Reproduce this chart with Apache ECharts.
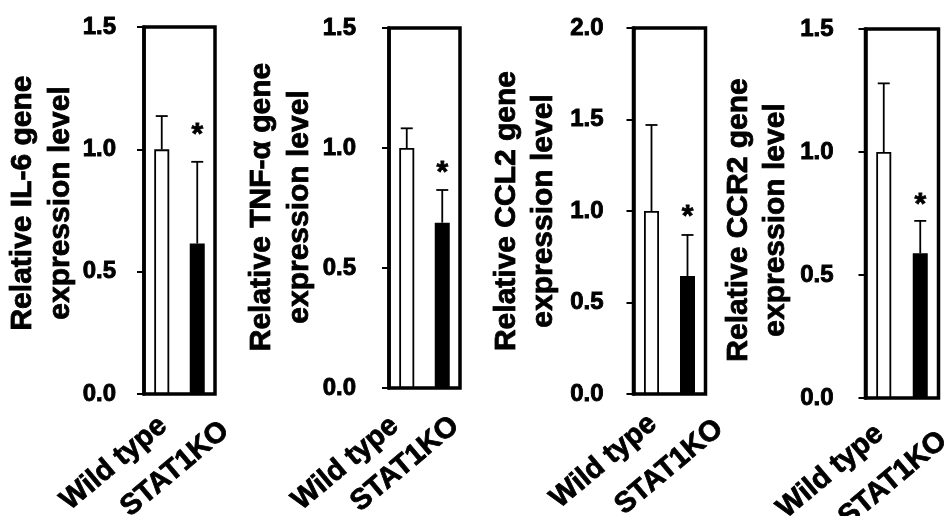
<!DOCTYPE html>
<html><head><meta charset="utf-8">
<script src="https://cdn.jsdelivr.net/npm/echarts@6/dist/echarts.min.js"></script>
<style>html,body{margin:0;padding:0;background:#fff}#c{width:947px;height:516px}</style>
</head><body><div id="c"></div>
<script>
// ---- data ----
const categories = ['Wild type', 'STAT1KO'];
const yTitles = [
  'Relative IL-6 gene\nexpression level',
  'Relative TNF-α gene\nexpression level',
  'Relative CCL2 gene\nexpression level',
  'Relative CCR2 gene\nexpression level'
];
const il6Mean = [1.0, 0.615];
const il6Err = [0.136, 0.334];
const tnfMean = [1.0, 0.689];
const tnfErr = [0.082, 0.136];
const ccl2Mean = [1.0, 0.645];
const ccl2Err = [0.47, 0.224];
const ccr2Mean = [1.0, 0.588];
const ccr2Err = [0.279, 0.132];
const significance = ['', '*'];
const yMax = [1.5, 1.5, 2.0, 1.5];
const yInterval = 0.5;

// ---- layout / style ----
const FONT = '"Liberation Sans", Arial, Helvetica, sans-serif';
const barColors = ['#ffffff', '#000000'];
const grids = [
  {left: 144, top: 27, width: 71, height: 367},
  {left: 389, top: 28, width: 71, height: 360},
  {left: 633.5, top: 28, width: 72, height: 366},
  {left: 865.5, top: 29, width: 73, height: 369}
];
const tickLabelMargin = [28, 33, 30, 32];
const nameGaps = [65, 71, 71, 71];
const nameShift = [7.5, 1, 0, -6.5];
const starGap = [32.5, 22.5, 24, 22];
// desired offset of label end (right-middle) from (category centre, axis bottom)
const xLabelTargets = [
  [[1.5, 28], [28, 33]],
  [[-12, 34], [13, 34]],
  [[1.5, 26], [32, 31]],
  [[-4, 32], [23, 39]]
];
const ROT = 40;
const XFS = 29;

function xLabelLayout(p) {
  const th = ROT * Math.PI / 180, c = Math.cos(th), s = Math.sin(th);
  const t = xLabelTargets[p];
  const m = Math.min.apply(null, t.map(d => d[1] - d[0] * c / s));
  const rich = {};
  t.forEach((d, i) => {
    const g = s * d[0] + c * (d[1] - m);
    const b = -c * d[0] + s * (d[1] - m);
    rich['c' + i] = {
      fontSize: XFS, fontWeight: 'bold', fontFamily: FONT, color: '#000',
      textBorderColor: '#000', textBorderWidth: 0.8,
      padding: [Math.max(0, 2 * g), Math.max(0, b), Math.max(0, -2 * g), 0]
    };
  });
  return {m, rich};
}

const means = [il6Mean, tnfMean, ccl2Mean, ccr2Mean];
const errs = [il6Err, tnfErr, ccl2Err, ccr2Err];

const option = {
  backgroundColor: '#fff',
  animation: false,
  grid: grids.map(g => Object.assign({show: true, borderColor: '#000', borderWidth: 3.5, backgroundColor: 'transparent',
    containLabel: false, outerBoundsMode: 'none'}, g)),
  xAxis: grids.map((g, p) => {
    const L = xLabelLayout(p);
    return {
      gridIndex: p, type: 'category', data: categories,
      axisLine: {show: false}, axisTick: {show: false},
      axisLabel: {
        interval: 0, rotate: ROT, margin: L.m, color: '#000',
        fontSize: XFS, fontWeight: 'bold', fontFamily: FONT,
        formatter: (v, i) => '{c' + i + '|' + v + '}',
        rich: L.rich
      }
    };
  }),
  yAxis: grids.map((g, p) => {
    const sh = nameShift[p];
    return {
      gridIndex: p, type: 'value', min: 0, max: yMax[p], interval: yInterval,
      axisLine: {show: true, lineStyle: {color: '#000', width: 3.5}},
      axisTick: {show: true, length: 7, lineStyle: {color: '#000', width: 2}},
      splitLine: {show: false},
      axisLabel: {margin: tickLabelMargin[p], fontSize: 24, fontWeight: 'bold', fontFamily: FONT, color: '#000',
        textBorderColor: '#000', textBorderWidth: 0.9,
        formatter: v => v.toFixed(1)},
      name: yTitles[p], nameLocation: 'middle', nameGap: nameGaps[p], nameMoveOverlap: false,
      nameTextStyle: {fontSize: 30, fontWeight: 'bold', fontFamily: FONT, color: '#000', lineHeight: 37.5,
        textBorderColor: '#000', textBorderWidth: 0.8,
        padding: sh >= 0 ? [0, 0, 0, 2 * sh] : [0, -2 * sh, 0, 0]}
    };
  }),
  series: []
};

means.forEach((mean, p) => {
  const err = errs[p];
  option.series.push({
    type: 'bar', xAxisIndex: p, yAxisIndex: p, barWidth: 15,
    data: mean.map((v, i) => ({value: v, itemStyle: {color: barColors[i]}})),
    itemStyle: {borderColor: '#000', borderWidth: 1.8}
  });
  option.series.push({
    type: 'custom', xAxisIndex: p, yAxisIndex: p, z: 5,
    data: mean.map((v, i) => [i, v, v + err[i]]),
    renderItem: (params, api) => {
      const base = api.coord([api.value(0), api.value(1)]);
      const top = api.coord([api.value(0), api.value(2)]);
      const children = [
        {type: 'line', shape: {x1: base[0], y1: base[1], x2: top[0], y2: top[1]}, style: {stroke: '#000', lineWidth: 1.8}},
        {type: 'line', shape: {x1: top[0] - 6, y1: top[1], x2: top[0] + 6, y2: top[1]}, style: {stroke: '#000', lineWidth: 1.8}}
      ];
      const sig = significance[params.dataIndex];
      if (sig) {
        children.push({type: 'text', x: top[0], y: top[1] - (starGap[p] - 5.7),
          style: {text: sig, font: 'bold 30px ' + FONT, fill: '#000', stroke: '#000', lineWidth: 0.8,
            align: 'center', verticalAlign: 'middle'}});
      }
      return {type: 'group', children};
    }
  });
});

const chart = echarts.init(document.getElementById('c'), null, {renderer: 'canvas'});
chart.setOption(option);
</script></body></html>
